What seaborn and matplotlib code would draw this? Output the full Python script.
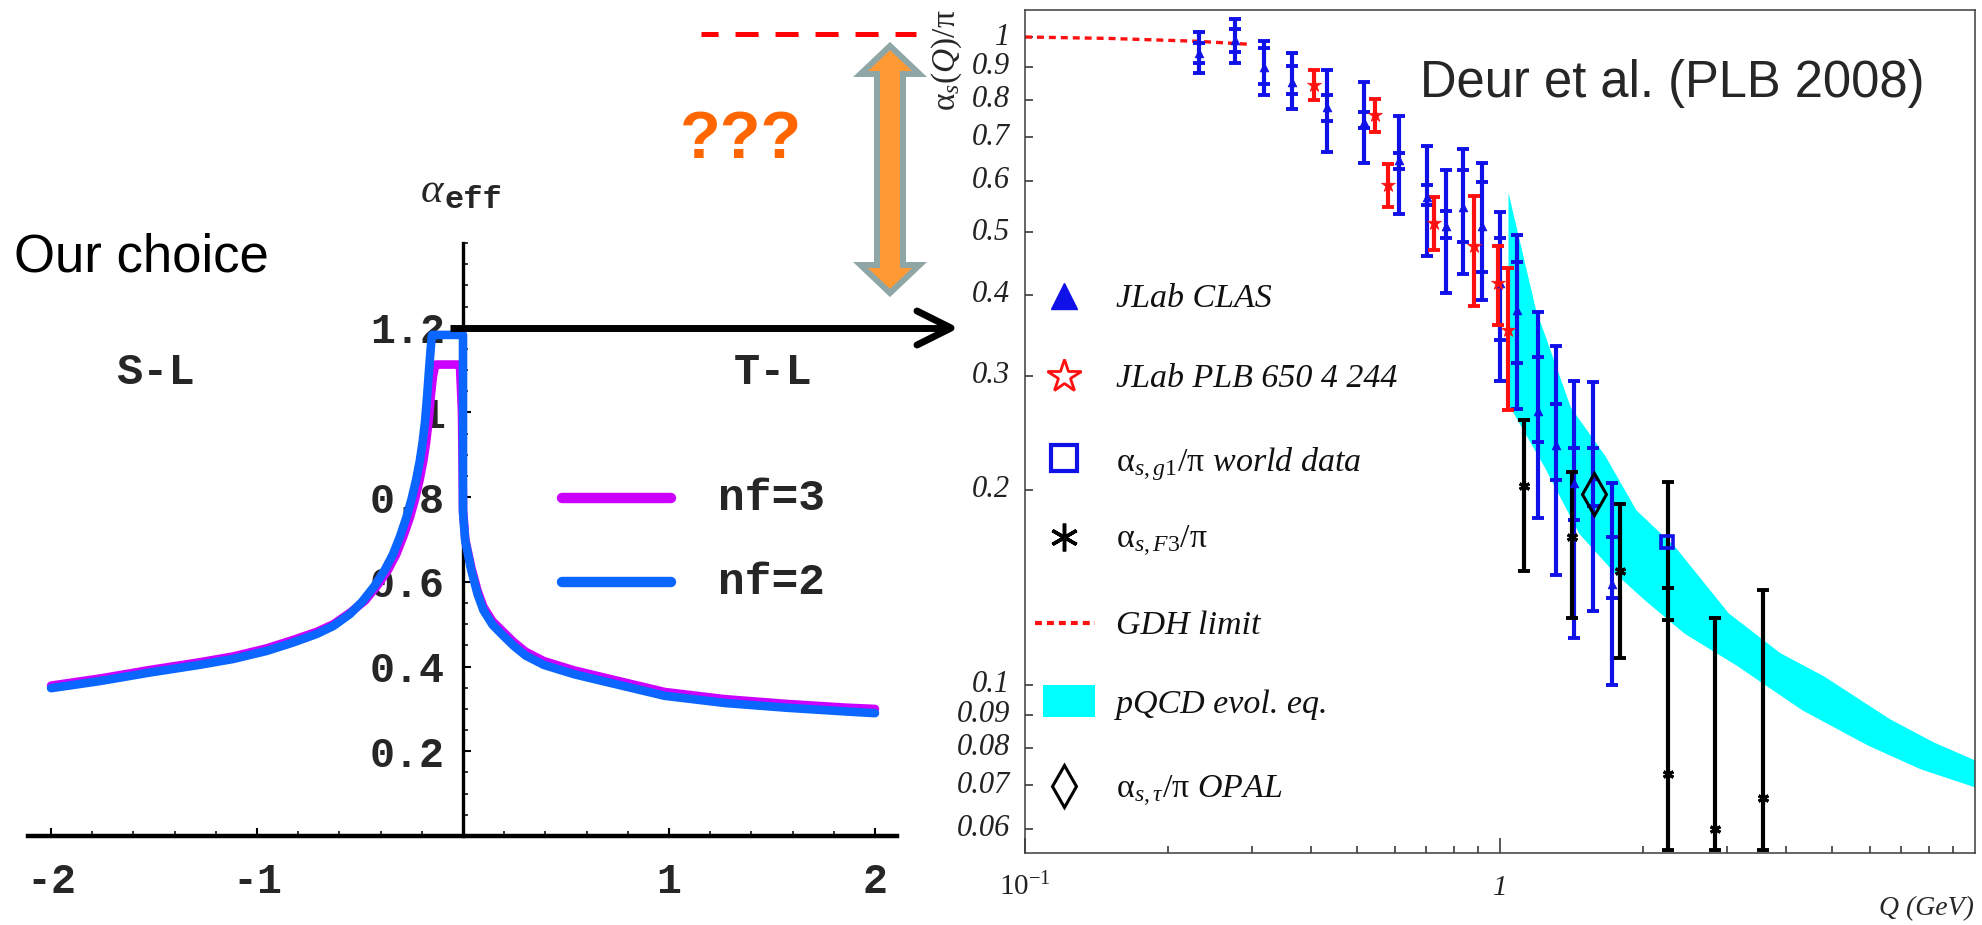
import numpy as np
import pandas as pd
import matplotlib
matplotlib.use("Agg")
import matplotlib.pyplot as plt
import seaborn as sns
from matplotlib.patches import Polygon, Rectangle
from matplotlib.ticker import FixedLocator, NullFormatter, NullLocator

# ---------------- effective coupling (left panel) ----------------
# x < 0 : space-like branch, x > 0 : time-like branch
nf2_x = [-2.0, -1.76, -1.52, -1.28, -1.115, -0.953, -0.824, -0.71, -0.629, -0.549, -0.49,
         -0.43, -0.38, -0.34, -0.306, -0.275, -0.25, -0.228, -0.21, -0.196, -0.184,
         -0.174, -0.165, -0.157, -0.152, -0.15,
         0.0, 0.0, 0.011, 0.04, 0.07, 0.099, 0.143, 0.187, 0.246, 0.304, 0.392, 0.539,
         0.685, 0.832, 0.979, 1.272, 1.566, 1.859, 2.0]
nf2_y = [0.349, 0.366, 0.386, 0.404, 0.418, 0.437, 0.457, 0.477, 0.496, 0.524, 0.553,
         0.59, 0.628, 0.665, 0.707, 0.752, 0.795, 0.84, 0.885, 0.93, 0.98,
         1.04, 1.10, 1.15, 1.178, 1.183,
         1.183, 0.763, 0.696, 0.628, 0.572, 0.533, 0.499, 0.477, 0.449, 0.426, 0.404, 0.382,
         0.365, 0.348, 0.331, 0.314, 0.303, 0.294, 0.29]
nf3_x = [-2.0, -1.76, -1.52, -1.28, -1.115, -0.953, -0.824, -0.71, -0.629, -0.549, -0.475,
         -0.415, -0.364, -0.324, -0.29, -0.258, -0.233, -0.211, -0.193, -0.179, -0.167,
         -0.156, -0.146, -0.138, -0.132,
         -0.015, -0.005, 0.0, 0.011, 0.04, 0.07, 0.099, 0.143, 0.187, 0.246, 0.304, 0.392,
         0.539, 0.685, 0.832, 0.979, 1.272, 1.566, 1.859, 2.0]
nf3_y = [0.355, 0.372, 0.392, 0.41, 0.424, 0.443, 0.463, 0.482, 0.50, 0.527, 0.556,
         0.592, 0.628, 0.665, 0.707, 0.752, 0.795, 0.84, 0.885, 0.93, 0.98,
         1.04, 1.085, 1.105, 1.113,
         1.113, 1.0, 0.77, 0.70, 0.634, 0.58, 0.541, 0.507, 0.486, 0.458, 0.435, 0.413,
         0.391, 0.374, 0.357, 0.34, 0.323, 0.312, 0.303, 0.30]
left_xticks = [-2, -1, 1, 2]
left_xticklabels = ["-2", "-1", "1", "2"]
left_yticks = [0.2, 0.4, 0.6, 0.8, 1.0, 1.2]
left_yticklabels = ["0.2", "0.4", "0.6", "0.8", "1", "1.2"]

# ---------------- alpha_s / pi extractions (right panel) ----------------
clas_q = [0.232, 0.277, 0.318, 0.364, 0.433, 0.516, 0.614, 0.703, 0.768, 0.836, 0.915,
          1.00, 1.086, 1.20, 1.309, 1.433, 1.568, 1.717]
clas_val = [0.945, 0.989, 0.900, 0.853, 0.781, 0.740, 0.646, 0.567, 0.510, 0.547, 0.510,
            0.417, 0.379, 0.265, 0.235, 0.205, 0.210, 0.143]
clas_lo = [0.880, 0.913, 0.814, 0.774, 0.665, 0.638, 0.533, 0.459, 0.403, 0.431, 0.393,
           0.294, 0.267, 0.181, 0.148, 0.118, 0.130, 0.100]
clas_hi = [1.018, 1.065, 0.987, 0.946, 0.889, 0.853, 0.755, 0.678, 0.623, 0.672, 0.638,
           0.536, 0.495, 0.377, 0.333, 0.294, 0.293, 0.205]
clas_stat_lo = [0.912, 0.949, 0.846, 0.817, 0.743, 0.723, 0.626, 0.551, 0.490, 0.482, 0.434,
                0.341, 0.314, 0.237, 0.207, 0.180, 0.189, 0.136]
clas_stat_hi = [0.979, 1.028, 0.961, 0.902, 0.814, 0.767, 0.663, 0.592, 0.538, 0.623, 0.598,
                0.489, 0.450, 0.321, 0.271, 0.232, 0.232, 0.169]

plb_q = [0.406, 0.545, 0.582, 0.725, 0.880, 0.99, 1.042]
plb_val = [0.843, 0.758, 0.591, 0.516, 0.475, 0.417, 0.353]
plb_lo = [0.800, 0.714, 0.546, 0.469, 0.384, 0.359, 0.266]
plb_hi = [0.889, 0.801, 0.637, 0.566, 0.569, 0.475, 0.440]

f3_q = [1.123, 1.421, 1.791, 2.258, 2.84, 3.585]
f3_val = [0.203, 0.169, 0.150, 0.073, 0.060, 0.067]
f3_lo = [0.150, 0.127, 0.110, 0.0557, 0.0557, 0.0557]
f3_hi = [0.256, 0.213, 0.190, 0.206, 0.127, 0.140]
f3_tick_q = [2.258]
f3_tick_lo = [0.126]
f3_tick_hi = [0.141]

g1_q = [2.25]
g1_val = [0.166]

opal_q = [1.58]
opal_val = [0.197]

gdh_q = [0.1, 0.15, 0.23, 0.30]
gdh_val = [1.0, 0.995, 0.985, 0.974]

band_up_q = [1.042, 1.19, 1.41, 1.670, 1.937, 2.343, 3.03, 3.89, 4.82, 6.63, 8.20, 10.0]
band_up = [0.575, 0.380, 0.268, 0.225, 0.186, 0.163, 0.129, 0.112, 0.103, 0.0885, 0.0815, 0.0765]
band_lo_q = [1.042, 1.058, 1.241, 1.470, 1.742, 2.021, 2.447, 3.157, 4.33, 5.96, 7.69, 10.0]
band_lo = [0.27, 0.266, 0.217, 0.171, 0.149, 0.135, 0.120, 0.107, 0.0914, 0.0806, 0.0741, 0.0695]

right_yticks = [0.06, 0.07, 0.08, 0.09, 0.1, 0.2, 0.3, 0.4, 0.5, 0.6, 0.7, 0.8, 0.9, 1.0]
right_yticklabels = ["0.06", "0.07", "0.08", "0.09", "0.1", "0.2", "0.3", "0.4", "0.5",
                     "0.6", "0.7", "0.8", "0.9", "1"]
right_xticks = [0.1, 1.0]
right_xticklabels = [r"$10^{-1}$", "1"]
right_xminor = [0.2, 0.3, 0.4, 0.5, 0.6, 0.7, 0.8, 0.9, 2, 3, 4, 5, 6, 7, 8, 9]

legend_labels = ["JLab CLAS", "JLab PLB 650 4 244",
                 r"$\mathrm{\alpha}_{s,g1}/\mathrm{\pi}$ world data",
                 r"$\mathrm{\alpha}_{s,F3}/\mathrm{\pi}$", "GDH limit", "pQCD evol. eq.",
                 r"$\mathrm{\alpha}_{s,\tau}/\mathrm{\pi}$ OPAL"]

# ---------------- styling ----------------
sns.set_theme(style="white")
plt.rcParams["font.family"] = ["Liberation Sans", "DejaVu Sans"]
plt.rcParams["mathtext.fontset"] = "custom"
plt.rcParams["mathtext.rm"] = "Liberation Serif"
plt.rcParams["mathtext.it"] = "Liberation Serif:italic"
plt.rcParams["mathtext.bf"] = "Liberation Serif:bold"
plt.rcParams["lines.scale_dashes"] = False

MAGENTA = "#cc00ff"
SKY = "#0a66ff"
BLUE = "#1010e8"
RED = "#ff1010"
MONO = dict(family="Liberation Mono", weight="bold")
SERIF_IT = dict(family="Liberation Serif", style="italic")

W, H = 1982, 925
fig = plt.figure(figsize=(W / 100, H / 100), dpi=100)
fig.patch.set_facecolor("white")


def px_axes(x0, y0, x1, y1):
    """Axes from a pixel box whose y runs downward from the top edge."""
    return fig.add_axes([x0 / W, 1 - y1 / H, (x1 - x0) / W, (y1 - y0) / H])


# ================= left panel: alpha_eff =================
axL = px_axes(28, 243, 897, 836)
axL.set_facecolor("none")
axL.set_xlim(-2.112, 2.107)
axL.set_ylim(0, 1.40)

for xs, ys, col in [(nf3_x, nf3_y, MAGENTA), (nf2_x, nf2_y, SKY)]:
    sns.lineplot(data=pd.DataFrame({"x": xs, "y": ys}), x="x", y="y", sort=False,
                 estimator=None, errorbar=None, ax=axL, color=col, linewidth=6.2,
                 solid_capstyle="round", solid_joinstyle="round", zorder=3)

axL.set_xlabel("")
axL.set_ylabel("")
for s in ["top", "right"]:
    axL.spines[s].set_visible(False)
axL.spines["left"].set_position(("data", 0))
axL.spines["left"].set_linewidth(2.4)
axL.spines["bottom"].set_linewidth(3.2)
for s in ["left", "bottom"]:
    axL.spines[s].set_color("black")

axL.set_xticks(left_xticks)
axL.set_xticklabels(left_xticklabels, fontsize=30, **MONO)
axL.set_xticks(np.round(np.arange(-2.0, 2.01, 0.2), 2), minor=True)
axL.set_yticks(left_yticks)
axL.set_yticklabels(left_yticklabels, fontsize=30, **MONO)
axL.set_yticks(np.round(np.arange(0.05, 1.41, 0.05), 2), minor=True)
axL.tick_params(axis="both", which="both", direction="in", color="black",
                bottom=True, left=True, top=False, right=False)
axL.tick_params(axis="both", which="major", length=6, width=1.5)
axL.tick_params(axis="both", which="minor", length=3.5, width=1.1)
axL.tick_params(axis="x", which="major", pad=19)
axL.tick_params(axis="y", which="major", pad=13)
axL.grid(False)

# ================= right panel: alpha_s/pi vs Q =================
axR = px_axes(1025, 10, 1975, 853)
axR.set_xscale("log")
axR.set_yscale("log")
axR.set_xlim(0.1, 10)
axR.set_ylim(0.05504, 1.1007)
axR.grid(False)

axR.fill(np.r_[band_up_q, band_lo_q[::-1]], np.r_[band_up, band_lo[::-1]],
         color="#00ffff", linewidth=0, zorder=1)
axR.plot(gdh_q, gdh_val, color=RED, linewidth=2.4, linestyle=(0, (5, 3.6)), zorder=2)


def draw_bars(q, val, lo, hi, color, z):
    v = np.asarray(val, float)
    err = [v - np.asarray(lo, float), np.asarray(hi, float) - v]
    axR.errorbar(q, v, yerr=err, fmt="none", ecolor=color, elinewidth=3.0,
                 capsize=4, capthick=2.8, zorder=z)


def draw_caps(q, lo, hi, color, z):
    for edge in (lo, hi):
        axR.plot(q, edge, linestyle="none", marker="_", markersize=8,
                 markeredgewidth=2.8, color=color, zorder=z)


draw_bars(clas_q, clas_val, clas_lo, clas_hi, BLUE, 3)
draw_caps(clas_q, clas_stat_lo, clas_stat_hi, BLUE, 3)
draw_bars(plb_q, plb_val, plb_lo, plb_hi, RED, 3)
draw_bars(f3_q, f3_val, f3_lo, f3_hi, "black", 3)
draw_caps(f3_tick_q, f3_tick_lo, f3_tick_hi, "black", 3)

sns.scatterplot(x=clas_q, y=clas_val, marker="^", s=40, color=BLUE, edgecolor=BLUE,
                linewidth=0.5, ax=axR, zorder=4, legend=False)
sns.scatterplot(x=plb_q, y=plb_val, marker="*", s=110, color=RED, edgecolor=RED,
                linewidth=0.5, ax=axR, zorder=4, legend=False)
axR.plot(f3_q, f3_val, linestyle="none", marker=(6, 2, 0), markersize=8,
         markeredgewidth=2.2, color="black", zorder=4)
axR.plot(g1_q, g1_val, linestyle="none", marker="s", markersize=8, markerfacecolor="none",
         markeredgecolor=BLUE, markeredgewidth=2.6, zorder=4)
axR.plot(opal_q, opal_val, linestyle="none", marker="d", markersize=21,
         markerfacecolor="none", markeredgecolor="black", markeredgewidth=2.2, zorder=4)

for s in axR.spines.values():
    s.set_visible(True)
    s.set_color("#3c3c3c")
    s.set_linewidth(1.1)

axR.xaxis.set_major_locator(FixedLocator(right_xticks))
axR.xaxis.set_major_formatter(NullFormatter())
axR.xaxis.set_minor_locator(FixedLocator(right_xminor))
axR.xaxis.set_minor_formatter(NullFormatter())
axR.yaxis.set_major_locator(FixedLocator(right_yticks))
axR.yaxis.set_major_formatter(NullFormatter())
axR.yaxis.set_minor_locator(NullLocator())
axR.tick_params(axis="both", which="both", direction="in", color="#2a2a2a",
                bottom=True, left=True, top=False, right=False)
axR.tick_params(axis="x", which="major", length=11, width=1.1)
axR.tick_params(axis="x", which="minor", length=5, width=1.1)
axR.tick_params(axis="y", which="major", length=6, width=1.1)

# italic serif tick labels, placed at the tick values
xlab_tr = axR.get_xaxis_transform()
for v, lab in zip(right_xticks, right_xticklabels):
    axR.text(v, -0.0498, lab, transform=xlab_tr, ha="center", va="baseline",
             fontsize=21, color="#222222", **SERIF_IT)
ylab_tr = axR.get_yaxis_transform()
for v, lab in zip(right_yticks, right_yticklabels):
    axR.text(-0.016, v, lab, transform=ylab_tr, ha="right", va="center",
             fontsize=22, color="#222222", **SERIF_IT)

# ================= overlay: labels, arrows, legends =================
ov = fig.add_axes([0, 0, 1, 1])
ov.set_xlim(0, W)
ov.set_ylim(H, 0)
ov.axis("off")
ov.patch.set_alpha(0)
ov.set_zorder(10)

ov.text(14, 272, "Our choice", fontsize=38, va="baseline", ha="left", color="black")
ov.text(433, 202, r"$\alpha$", fontsize=31, ha="center", va="baseline")
ov.text(445, 208, "eff", fontsize=23, ha="left", va="baseline", **MONO)
ov.text(156, 373, "S-L", fontsize=31.5, ha="center", va="center", **MONO)
ov.text(773, 373, "T-L", fontsize=31.5, ha="center", va="center", **MONO)

ov.plot([562, 671], [498, 498], color=MAGENTA, linewidth=7.5, solid_capstyle="round")
ov.plot([562, 671], [582, 582], color=SKY, linewidth=7.5, solid_capstyle="round")
ov.text(718, 498, "nf=3", fontsize=32, ha="left", va="center", **MONO)
ov.text(718, 582, "nf=2", fontsize=32, ha="left", va="center", **MONO)

# time-like axis continued toward the data panel
ov.plot([450, 950], [328, 328], color="black", linewidth=5, solid_capstyle="butt")
ov.plot([917, 951, 917], [311, 328, 345], color="black", linewidth=5,
        solid_capstyle="round", solid_joinstyle="round")

# unknown gap between the two normalisations
ov.plot([701, 916], [34, 34], color="#ff0000", linewidth=3.6,
        linestyle=(4.3, (16.6, 12.2)), solid_capstyle="butt")
ov.add_patch(Polygon([(890, 46), (919.5, 74), (903, 74), (903, 265), (919.5, 265),
                      (890, 293), (860.5, 265), (877, 265), (877, 74), (860.5, 74)],
                     closed=True, facecolor="#ff9933", edgecolor="#8fa6a6",
                     linewidth=4.3, joinstyle="miter"))
ov.text(741, 158, "???", fontsize=48, fontweight="bold", color="#ff6600",
        ha="center", va="baseline")

ov.text(1420, 97, "Deur et al. (PLB 2008)", fontsize=36.5, ha="left", va="baseline")
ov.text(947, 60, r"$\mathrm{\alpha}_s(Q)/\mathrm{\pi}$", fontsize=24, rotation=90,
        ha="center", va="center")
ov.text(1974, 915, "Q (GeV)", fontsize=20, ha="right", va="baseline", **SERIF_IT)

# data-panel legend
mx = 1064
ov.plot([mx], [296], marker="^", markersize=19, color=BLUE, linestyle="none")
ov.plot([mx], [376], marker="*", markersize=25, markerfacecolor="white",
        markeredgecolor=RED, markeredgewidth=2, linestyle="none")
ov.plot([mx], [458], marker="s", markersize=19, markerfacecolor="none",
        markeredgecolor=BLUE, markeredgewidth=3, linestyle="none")
ov.plot([mx], [537], marker=(6, 2, 0), markersize=20, markeredgewidth=2.5,
        color="black", linestyle="none")
ov.plot([1035, 1095], [623, 623], color=RED, linewidth=3, linestyle=(0, (5, 3.6)))
ov.add_patch(Rectangle((1043, 685), 52, 32, facecolor="#00ffff", edgecolor="none"))
ov.plot([mx], [786], marker="d", markersize=21, markerfacecolor="none",
        markeredgecolor="black", markeredgewidth=2.2, linestyle="none")

for lab, yb in zip(legend_labels, [307, 387, 471, 548, 634, 713, 798]):
    ov.text(1116, yb, lab, fontsize=24.5, ha="left", va="baseline", color="#111111",
            **SERIF_IT)

fig.savefig("out.png", dpi=100)
